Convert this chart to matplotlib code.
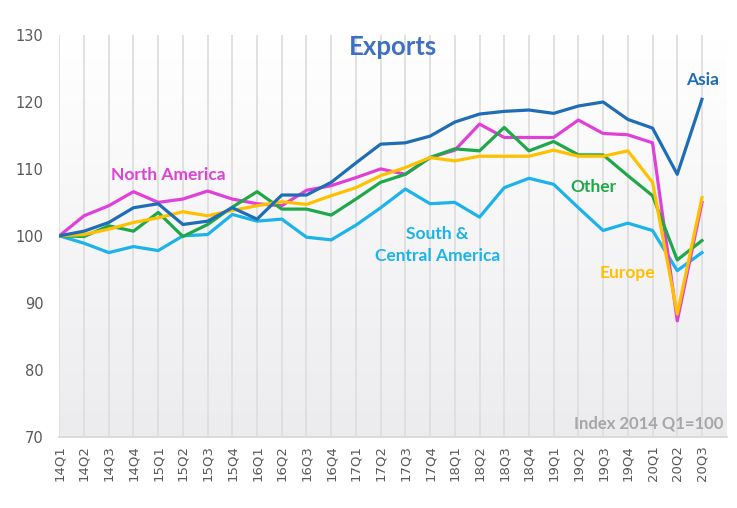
import matplotlib.pyplot as plt
import numpy as np

quarters = ['14Q1', '14Q2', '14Q3', '14Q4', '15Q1', '15Q2', '15Q3', '15Q4',
            '16Q1', '16Q2', '16Q3', '16Q4', '17Q1', '17Q2', '17Q3', '17Q4',
            '18Q1', '18Q2', '18Q3', '18Q4', '19Q1', '19Q2', '19Q3', '19Q4',
            '20Q1', '20Q2', '20Q3']

asia = [100, 100.7, 102.0, 104.2, 104.8, 101.7, 102.2, 104.2, 102.5, 106.1,
        106.1, 108.0, 110.9, 113.7, 113.9, 114.9, 117.0, 118.2, 118.6, 118.8,
        118.3, 119.4, 120.0, 117.4, 116.1, 109.2, 120.4]
north_america = [100, 103.0, 104.5, 106.6, 105.0, 105.5, 106.7, 105.5, 104.8, 104.5,
                 106.8, 107.5, 108.7, 110.0, 109.2, 111.7, 112.8, 116.7, 114.7, 114.7,
                 114.7, 117.3, 115.3, 115.1, 113.9, 87.3, 105.0]
europe = [100, 100.2, 101.0, 102.0, 102.7, 103.6, 103.0, 103.8, 104.5, 105.1,
          104.7, 106.0, 107.2, 109.0, 110.2, 111.7, 111.2, 111.9, 111.9, 111.9,
          112.8, 111.9, 111.9, 112.7, 108.0, 88.3, 105.7]
other = [100, 99.9, 101.5, 100.7, 103.5, 99.9, 101.7, 104.3, 106.6, 104.0,
         104.0, 103.1, 105.5, 108.0, 109.2, 111.7, 113.0, 112.7, 116.2, 112.7,
         114.1, 112.1, 112.1, 109.0, 106.0, 96.4, 99.3]
south_central = [100, 98.9, 97.5, 98.4, 97.8, 100.0, 100.2, 103.2, 102.2, 102.5,
                 99.8, 99.4, 101.6, 104.2, 107.0, 104.8, 105.0, 102.8, 107.2, 108.6,
                 107.7, 104.2, 100.8, 101.9, 100.8, 94.8, 97.5]

c_asia = '#1f6db5'
c_na = '#e040d8'
c_eu = '#ffc000'
c_other = '#1ea84a'
c_sca = '#1cb2ea'

fig = plt.figure(figsize=(7.37, 5.08), dpi=100)
ax = fig.add_axes([0.0805, 0.1404, 0.9055, 0.7906])
x = np.arange(len(quarters))

# faint gray gradient behind the plot
grad = np.linspace(0, 1, 100).reshape(-1, 1)
ax.imshow(grad, extent=[0, 1, 0, 1], transform=ax.transAxes, aspect='auto',
          cmap=plt.matplotlib.colors.LinearSegmentedColormap.from_list('g', ['#ececef', '#ffffff']),
          origin='lower', zorder=0)

for xi in x:
    ax.axvline(xi, color='#dedede', lw=1.3, zorder=1)

lw = 2.3
ax.plot(x, south_central, color=c_sca, lw=lw, zorder=3)
ax.plot(x, other, color=c_other, lw=lw, zorder=4)
ax.plot(x, europe, color=c_eu, lw=lw, zorder=5)
ax.plot(x, north_america, color=c_na, lw=lw, zorder=3.5)
ax.plot(x, asia, color=c_asia, lw=lw, zorder=6)

ax.set_xlim(0, 27)
ax.set_ylim(70, 130)
ax.set_yticks([70, 80, 90, 100, 110, 120, 130])
ax.set_xticks(x)
ax.set_xticklabels(quarters, rotation=90)
ax.tick_params(axis='both', length=0, colors='#595959', labelsize=9.5)
ax.tick_params(axis='y', pad=11.5, labelsize=10.5)
ax.tick_params(axis='x', pad=6)
for s in ['top', 'right', 'left']:
    ax.spines[s].set_visible(False)
ax.spines['bottom'].set_color('#d9d9d9')
ax.spines['bottom'].set_linewidth(1.3)

lab = dict(fontweight='bold', family=['Lato', 'DejaVu Sans'])
ax.text(13.5, 128.2, 'Exports', color='#3f6fc2', fontsize=18.5, ha='center', va='center', **lab)
ax.text(26.7, 123.3, 'Asia', color=c_asia, fontsize=12.5, ha='right', va='center', **lab)
ax.text(4.4, 109.1, 'North America', color=c_na, fontsize=12.5, ha='center', va='center', **lab)
ax.text(21.6, 107.3, 'Other', color=c_other, fontsize=12.5, ha='center', va='center', **lab)
ax.text(15.3, 98.6, 'South &\nCentral America', color=c_sca, fontsize=12.5,
        ha='center', va='center', linespacing=1.5, **lab)
ax.text(23.0, 94.5, 'Europe', color=c_eu, fontsize=12.5, ha='center', va='center', **lab)
ax.text(26.85, 72.0, 'Index 2014 Q1=100', color='#a6a6a6', fontsize=12, ha='right', va='center', **lab)

fig.savefig('out.png', dpi=100)
